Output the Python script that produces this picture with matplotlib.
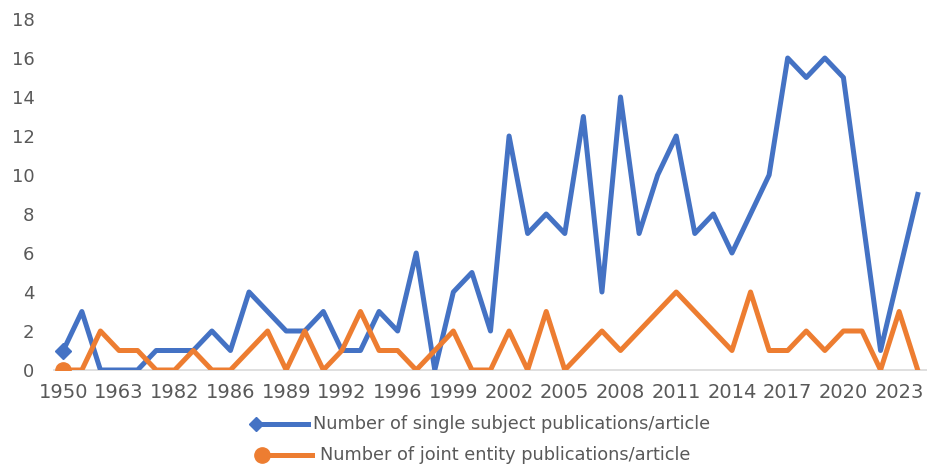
import matplotlib
matplotlib.use("Agg")
import matplotlib.pyplot as plt
from matplotlib.lines import Line2D

years = ["1950", "1956", "1960", "1963", "1970", "1979", "1982", "1983", "1985",
         "1986", "1987", "1988", "1989", "1990", "1991", "1992", "1994", "1995",
         "1996", "1997", "1998", "1999", "2000", "2001", "2002", "2003", "2004",
         "2005", "2006", "2007", "2008", "2009", "2010", "2011", "2012", "2013",
         "2014", "2015", "2016", "2017", "2018", "2019", "2020", "2021", "2022",
         "2023", "2024"]

single = [1, 3, 0, 0, 0, 1, 1, 1, 2, 1, 4, 3, 2, 2, 3, 1, 1, 3, 2, 6, 0, 4, 5, 2,
          12, 7, 8, 7, 13, 4, 14, 7, 10, 12, 7, 8, 6, 8, 10, 16, 15, 16, 15, 8,
          1, 5, 9]
joint = [0, 0, 2, 1, 1, 0, 0, 1, 0, 0, 1, 2, 0, 2, 0, 1, 3, 1, 1, 0, 1, 2, 0, 0,
         2, 0, 3, 0, 1, 2, 1, 2, 3, 4, 3, 2, 1, 4, 1, 1, 2, 1, 2, 2, 0, 3, 0]

label_single = "Number of single subject publications/article"
label_joint = "Number of joint entity publications/article"

BLUE = "#4472C4"
ORANGE = "#ED7D31"
GRAY = "#595959"

fig = plt.figure(figsize=(9.27, 4.68), dpi=100)
ax = fig.add_axes([54 / 927, 98 / 468, (927 - 54) / 927, 351 / 468])

x = list(range(len(years)))
ax.plot(x, single, color=BLUE, lw=3.6, marker="D", markersize=8,
        markevery=[0], solid_joinstyle="round", zorder=3, clip_on=True)
ax.plot(x, joint, color=ORANGE, lw=3.6, marker="o", markersize=11,
        markevery=[0], solid_joinstyle="round", zorder=4, clip_on=True)

ax.set_xlim(-0.5, len(years) - 0.5)
ax.set_ylim(0, 18)
ax.set_yticks(range(0, 19, 2))
ax.set_xticks(x[::3])
ax.set_xticklabels(years[::3])

for s in ["top", "right", "left"]:
    ax.spines[s].set_visible(False)
ax.spines["bottom"].set_color("#D9D9D9")
ax.spines["bottom"].set_linewidth(1.2)
ax.spines["bottom"].set_zorder(1)

ax.tick_params(axis="x", length=0, pad=9, labelsize=14, labelcolor=GRAY)
ax.tick_params(axis="y", length=0, pad=14, labelsize=13, labelcolor=GRAY)

# legend below the plot, marker at the left end of each sample line
fig.add_artist(Line2D([256 / 927, 308 / 927], [1 - 424 / 468, 1 - 424 / 468],
                      color=BLUE, lw=3.6, marker="D", markersize=7,
                      markevery=[0], transform=fig.transFigure))
fig.text(313 / 927, 1 - 424 / 468, label_single, fontsize=12.8, color=GRAY,
         va="center", ha="left")
fig.add_artist(Line2D([262 / 927, 312 / 927], [1 - 455 / 468, 1 - 455 / 468],
                      color=ORANGE, lw=3.6, marker="o", markersize=11,
                      markevery=[0], transform=fig.transFigure))
fig.text(320 / 927, 1 - 455 / 468, label_joint, fontsize=12.8, color=GRAY,
         va="center", ha="left")

fig.savefig("out.png", dpi=100)
